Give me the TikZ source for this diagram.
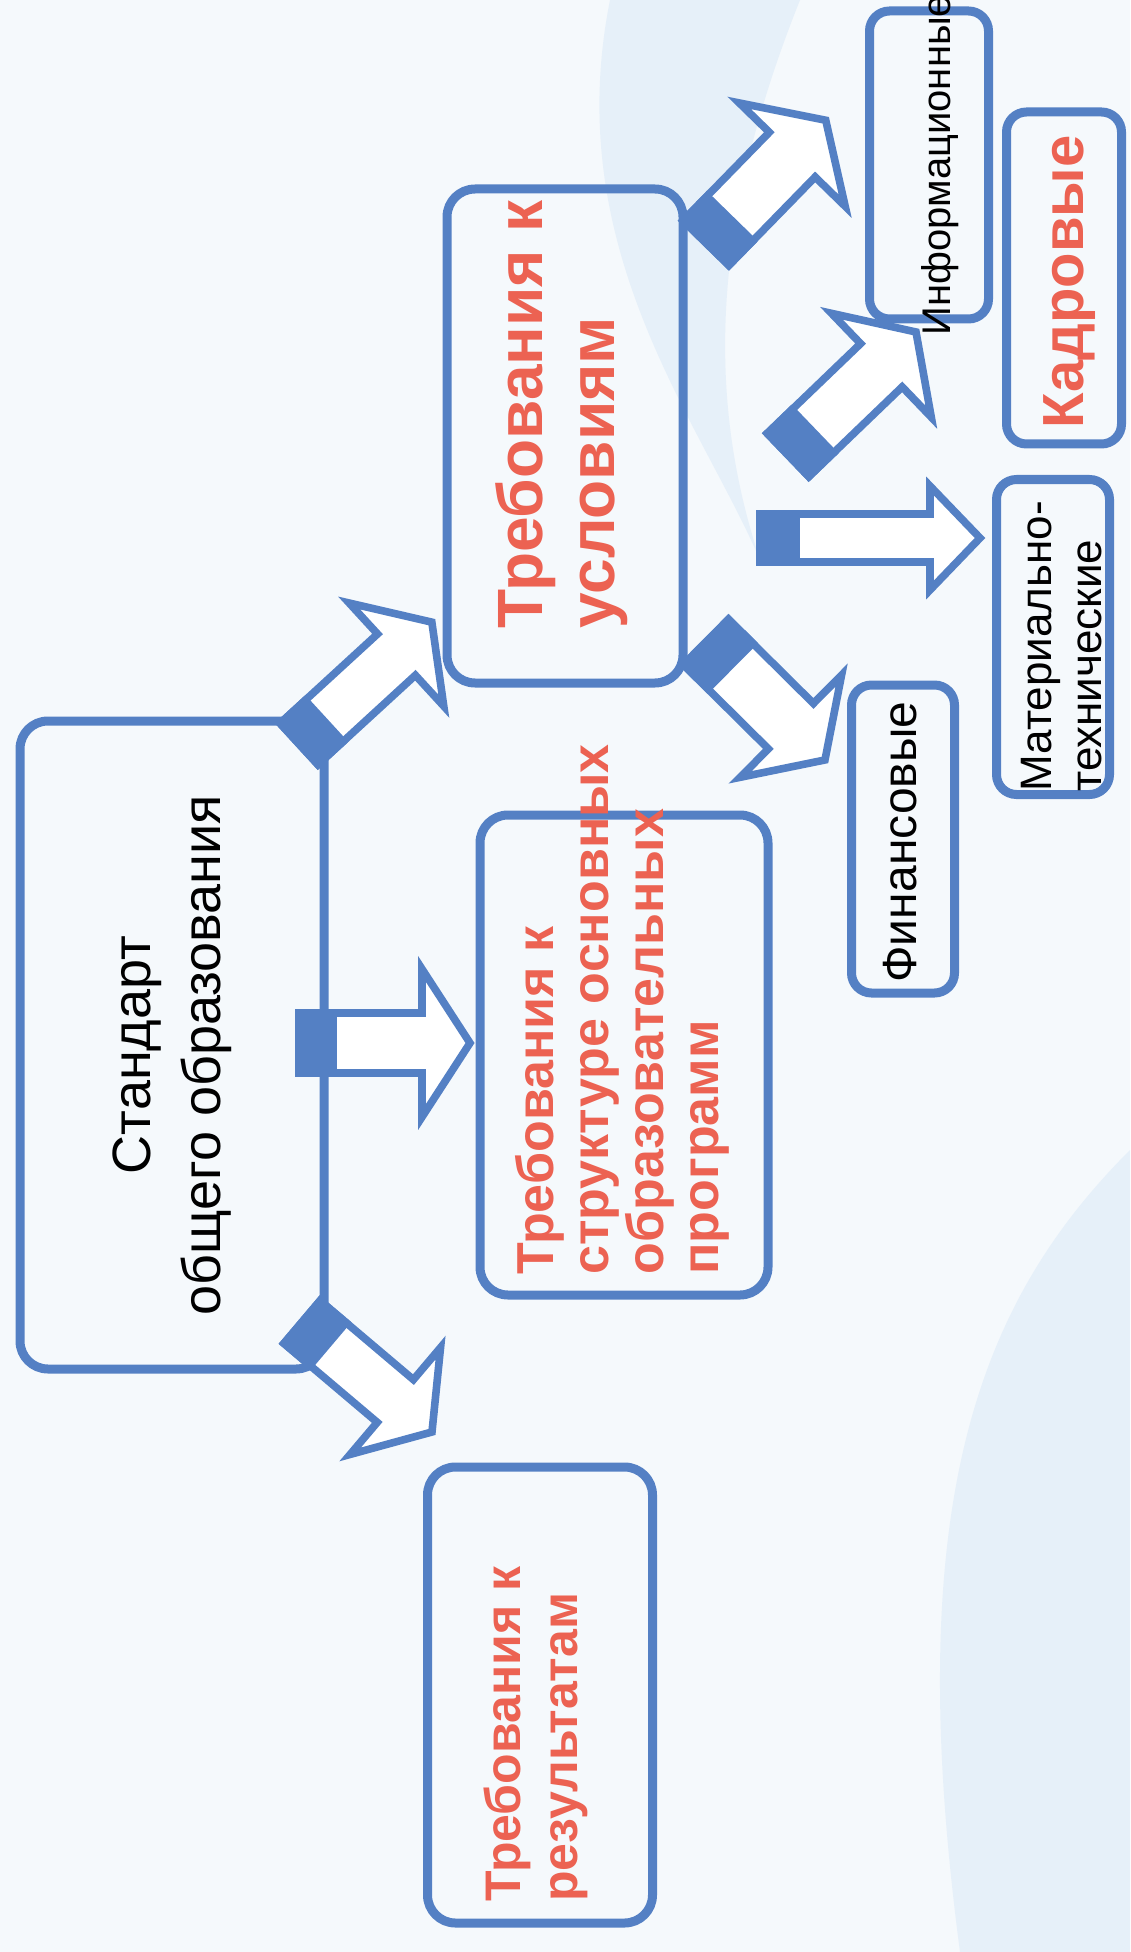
\documentclass[tikz,border=0pt]{standalone}
\usepackage{fontspec}
\setmainfont{Liberation Sans}
\definecolor{framblue}{RGB}{84,128,196}
\definecolor{titlered}{RGB}{236,98,82}
\definecolor{paper}{RGB}{245,249,252}
\definecolor{paleblue}{RGB}{230,240,249}
\tikzstyle{roundbox} = [draw=framblue, line width=4.5pt, rectangle, rounded corners=14pt, inner sep=0pt]
\tikzstyle{redtitle} = [text=titlered, rotate=90, inner sep=0pt, align=left]
\tikzstyle{plaintitle} = [text=black, rotate=90, inner sep=0pt]
\tikzstyle{arrowline} = [draw=framblue, line width=3.8pt, fill=white, line join=miter]

% block arrow: from, to, shaft half width, head half width, head length, base length (pt)
\newcommand{\blockarrow}[6]{%
  \path (#1); \pgfgetlastxy{\ax}{\ay}%
  \path (#2); \pgfgetlastxy{\bx}{\by}%
  \pgfmathsetmacro{\ang}{atan2(\by-\ay,\bx-\ax)}%
  \pgfmathsetmacro{\len}{veclen(\bx-\ax,\by-\ay)}%
  \pgfmathsetmacro{\neck}{\len-#5}%
  \begin{scope}[shift={(\ax,\ay)}, rotate=\ang]
    \draw[arrowline] (0pt,-#3pt) -- (\neck pt,-#3pt) -- (\neck pt,-#4pt) -- (\len pt,0pt)
      -- (\neck pt,#4pt) -- (\neck pt,#3pt) -- (0pt,#3pt) -- cycle;
    \draw[arrowline, fill=framblue] (0pt,-#3pt) rectangle (#6pt,#3pt);
  \end{scope}}

\begin{document}
\begin{tikzpicture}[x=0.5pt, y=-0.5pt]
  \useasboundingbox (0,0) rectangle (1130,1952);
  \fill[paper] (0,0) rectangle (1130,1952);
  % faint background swooshes
  \fill[paleblue] (610,0) .. controls (560,250) and (700,420) .. (760,560)
    .. controls (700,380) and (720,200) .. (800,0) -- cycle;
  \fill[paleblue] (1130,1150) .. controls (980,1300) and (900,1500) .. (960,1952)
    -- (1130,1952) -- cycle;

  % boxes
  \node[roundbox, minimum width=152pt, minimum height=324pt] (std) at (172,1045) {};
  \node[roundbox, minimum width=144pt, minimum height=240pt] (struct) at (624,1055) {};
  \node[roundbox, minimum width=112.5pt, minimum height=228pt] (res) at (540,1695) {};
  \node[roundbox, minimum width=118pt, minimum height=247pt] (cond) at (565,436) {};
  \node[roundbox, minimum width=51.5pt, minimum height=154pt, rounded corners=10pt] (fin) at (903,839) {};
  \node[roundbox, minimum width=56.5pt, minimum height=157.5pt, rounded corners=10pt] (mat) at (1053,637) {};
  \node[roundbox, minimum width=59.5pt, minimum height=154pt, rounded corners=10pt] (inf) at (929,165) {};
  \node[roundbox, minimum width=57.5pt, minimum height=166pt, rounded corners=10pt] (kadr) at (1064,278) {};

  % texts
  \node[plaintitle, align=center, font={\fontsize{27}{35}\selectfont}] (stdtext) at (172,1055)
    {Стандарт\\общего образования};
  \node[redtitle, anchor=west, font={\fontsize{26}{27.5}\selectfont\bfseries}] (structtext) at (622,1275)
    {Требования к\\структуре основных\\образовательных\\программ};
  \node[redtitle, anchor=west, font={\fontsize{25}{28.5}\selectfont\bfseries}] (restext) at (536,1902)
    {Требования к\\результатам};
  \node[redtitle, anchor=west, font={\fontsize{32}{36}\selectfont\bfseries}] (condtext) at (562,629)
    {Требования к\\условиям};
  \node[plaintitle, font={\fontsize{24}{28}\selectfont}] (fintext) at (900,842) {Финансовые};
  \node[plaintitle, anchor=west, align=left, font={\fontsize{22}{25}\selectfont}] (mattext) at (1062,792)
    {Материально-\\технические};
  \node[plaintitle, anchor=west, font={\fontsize{20}{24}\selectfont}] (inftext) at (940,336) {Информационные};
  \node[redtitle, font={\fontsize{29}{32}\selectfont\bfseries}] (kadrtext) at (1070,282) {Кадровые};

  % arrow ends
  \coordinate (a1s) at (299,744);  \coordinate (a1e) at (432,622);
  \coordinate (a2s) at (299,1043); \coordinate (a2e) at (470,1043);
  \coordinate (a3s) at (302,1322); \coordinate (a3e) at (432,1432);
  \coordinate (a4s) at (706,642);  \coordinate (a4e) at (825,760);
  \coordinate (a5s) at (760,538);  \coordinate (a5e) at (980,538);
  \coordinate (a6s) at (788,455);  \coordinate (a6e) at (916,332);
  \coordinate (a7s) at (706,243);  \coordinate (a7e) at (826,120);

  \blockarrow{a1s}{a1e}{14}{35}{24}{17}
  \blockarrow{a2s}{a2e}{15}{37}{24}{17}
  \blockarrow{a3s}{a3e}{14}{35}{24}{17}
  \blockarrow{a4s}{a4e}{16}{36}{24}{17}
  \blockarrow{a5s}{a5e}{12}{26}{25}{18}
  \blockarrow{a6s}{a6e}{15}{36}{24}{17}
  \blockarrow{a7s}{a7e}{16}{37}{24}{17}
\end{tikzpicture}
\end{document}
